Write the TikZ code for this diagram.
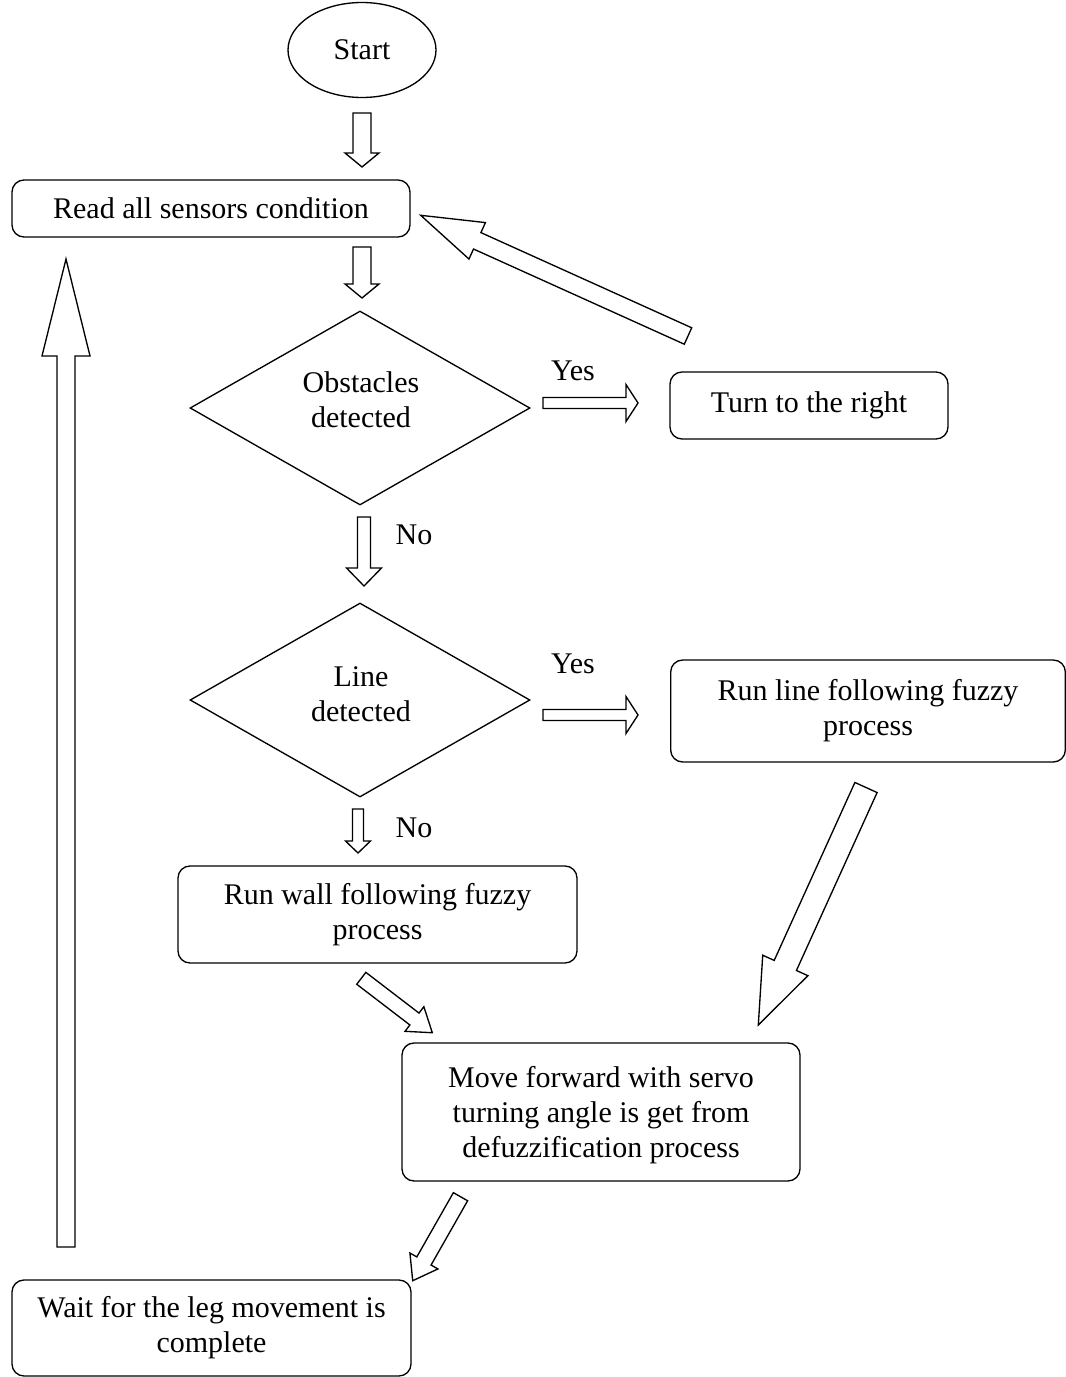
\documentclass[tikz,border=0pt]{standalone}
\usepackage{fontspec}
\setmainfont{Liberation Serif}
\usetikzlibrary{calc,shapes.geometric}

% hollow block arrow: tail, tip, shaft half-width, head half-width, head length (px units)
\newcommand\blockarrow[5]{%
  \pgfmathsetmacro\baW{#3*0.75}%
  \pgfmathsetmacro\baH{#4*0.75}%
  \pgfmathsetmacro\baL{#5*0.75}%
  \coordinate (#2-base) at ($(#2)!\baL pt!(#1)$);
  \draw[barrow] ($(#1)!\baW pt!90:(#2)$) -- ($(#2-base)!\baW pt!90:(#2)$)
    -- ($(#2-base)!\baH pt!90:(#2)$) -- (#2)
    -- ($(#2-base)!\baH pt!-90:(#2)$) -- ($(#2-base)!\baW pt!-90:(#2)$)
    -- ($(#1)!\baW pt!-90:(#2)$) -- cycle;
}

\begin{document}
\begin{tikzpicture}[x=0.75pt,y=-0.75pt,
  every node/.style={font=\fontsize{22.5}{26.25}\selectfont},
  box/.style={draw,line width=1pt,rounded corners=9pt,inner sep=0pt,align=center},
  decision/.style={draw,diamond,line width=1pt,inner sep=0pt},
  terminal/.style={draw,ellipse,line width=1pt,inner sep=0pt},
  lbl/.style={inner sep=0pt,align=center},
  barrow/.style={draw,line width=1pt,fill=white,line join=miter}]
\useasboundingbox (0,0) rectangle (1065,1377);

% process steps
\node[terminal,minimum width=111pt,minimum height=71.25pt] (start) at (362,50) {Start};
\node[box,minimum width=298.5pt,minimum height=42.75pt] (read) at (211,208.5) {Read all sensors condition};
\node[decision,minimum width=255pt,minimum height=145.5pt] (obst) at (360,408) {};
\node[lbl] (obsttxt) at (361,400) {Obstacles\\detected};
\node[box,minimum width=208.5pt,minimum height=50.25pt] (turn) at (809,405.5) {Turn to the right};
\node[decision,minimum width=255pt,minimum height=145.5pt] (line) at (360,700) {};
\node[lbl] (linetxt) at (361,694) {Line\\detected};
\node[box,minimum width=296pt,minimum height=76.5pt] (linebox) at (868,711) {Run line following fuzzy\\process};
\node[box,minimum width=299.25pt,minimum height=72.75pt] (wall) at (377.5,914.5) {Run wall following fuzzy\\process};
\node[box,minimum width=298.5pt,minimum height=103.5pt] (move) at (601,1112) {};
\node[lbl] (movetxt) at (601,1115) {Move forward with servo\\turning angle is get from\\defuzzification process};
\node[box,minimum width=299.25pt,minimum height=72pt] (wait) at (211.5,1328) {Wait for the leg movement is\\complete};

% branch labels
\node[lbl] (yes1) at (573,371) {Yes};
\node[lbl] (no1) at (414,535) {No};
\node[lbl] (yes2) at (573,664) {Yes};
\node[lbl] (no2) at (414,828) {No};

% arrow end points
\coordinate (a1t) at (362,113);   \coordinate (a1h) at (362,167);
\coordinate (a2t) at (362,247);   \coordinate (a2h) at (362,298);
\coordinate (a3t) at (688,336);   \coordinate (a3h) at (420.7,215.3);
\coordinate (a4t) at (66,1247);   \coordinate (a4h) at (66,259);
\coordinate (a5t) at (364,517);   \coordinate (a5h) at (364,586);
\coordinate (a6t) at (543,403);   \coordinate (a6h) at (638,403);
\coordinate (a7t) at (543,715);   \coordinate (a7h) at (638,715);
\coordinate (a8t) at (358,809);   \coordinate (a8h) at (358,853);
\coordinate (a9t) at (361.3,978.3); \coordinate (a9h) at (432.3,1032.7);
\coordinate (a10t) at (866,787.5); \coordinate (a10h) at (758.3,1025);
\coordinate (a11t) at (460.5,1196.7); \coordinate (a11h) at (412.7,1280.7);

% block arrows
\blockarrow{a1t}{a1h}{9}{17}{14}
\blockarrow{a2t}{a2h}{9}{17}{14}
\blockarrow{a3t}{a3h}{9}{20}{62}
\blockarrow{a4t}{a4h}{9}{24}{97}
\blockarrow{a5t}{a5h}{6.5}{17.5}{18}
\blockarrow{a6t}{a6h}{5.5}{18.5}{12}
\blockarrow{a7t}{a7h}{5.5}{18.5}{12}
\blockarrow{a8t}{a8h}{5.5}{12.5}{12}
\blockarrow{a9t}{a9h}{7.5}{15.5}{22.5}
\blockarrow{a10t}{a10h}{12.2}{24.8}{65.4}
\blockarrow{a11t}{a11h}{8.2}{16.1}{22.7}
\end{tikzpicture}
\end{document}
